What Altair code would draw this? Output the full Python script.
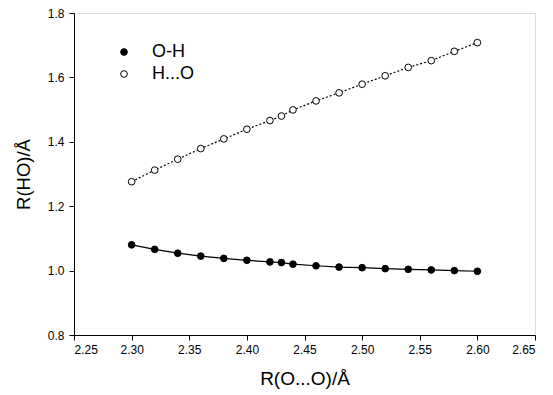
import altair as alt
import pandas as pd

x_vals = [2.30, 2.32, 2.34, 2.36, 2.38, 2.40, 2.42, 2.43, 2.44, 2.46, 2.48, 2.50, 2.52, 2.54, 2.56, 2.58, 2.60]
oh_vals = [1.080, 1.066, 1.054, 1.045, 1.038, 1.032, 1.027, 1.025, 1.020, 1.015, 1.011, 1.009, 1.006, 1.004, 1.002, 1.000, 0.998]
ho_vals = [1.276, 1.312, 1.346, 1.379, 1.409, 1.439, 1.466, 1.480, 1.499, 1.527, 1.552, 1.579, 1.605, 1.631, 1.652, 1.681, 1.708]
series_names = ["O-H", "H...O"]
x_ticks = [2.25, 2.30, 2.35, 2.40, 2.45, 2.50, 2.55, 2.60, 2.65]
y_ticks = [0.8, 1.0, 1.2, 1.4, 1.6, 1.8]

rows = []
for xv, a, b in zip(x_vals, oh_vals, ho_vals):
    rows.append({"x": xv, "y": a, "series": series_names[0]})
    rows.append({"x": xv, "y": b, "series": series_names[1]})
df = pd.DataFrame(rows)

FONT = "Liberation Sans"

xenc = alt.X("x:Q", scale=alt.Scale(domain=[2.25, 2.65], nice=False, zero=False),
             axis=alt.Axis(title="R(O...O)/Å", values=x_ticks, format=".2f", grid=False,
                           tickSize=5, domainColor="black", tickColor="black",
                           labelFontSize=12, titleFontSize=19, titleFontWeight="normal",
                           labelPadding=4, titlePadding=14, labelColor="black", titleColor="black"))
yenc = alt.Y("y:Q", scale=alt.Scale(domain=[0.8, 1.8], nice=False, zero=False),
             axis=alt.Axis(title="R(HO)/Å", values=y_ticks, format=".1f", grid=False,
                           tickSize=5, domainColor="black", tickColor="black",
                           labelFontSize=12, titleFontSize=18.5, titleFontWeight="normal",
                           labelPadding=5, titlePadding=14, labelColor="black", titleColor="black"))

base = alt.Chart(df)

line_oh = base.transform_filter(alt.datum.series == series_names[0]).mark_line(
    color="black", strokeWidth=1.2).encode(x=xenc, y=yenc)
line_ho = base.transform_filter(alt.datum.series == series_names[1]).mark_line(
    color="black", strokeWidth=1.2, strokeDash=[2, 2]).encode(x=xenc, y=yenc)

points = base.mark_point(filled=True, stroke="black", strokeWidth=1, size=45, shape="circle", opacity=1).encode(
    x=xenc, y=yenc,
    fill=alt.Fill("series:N", scale=alt.Scale(domain=series_names, range=["black", "white"]),
                  legend=alt.Legend(title=None, orient="none", legendX=41, legendY=30,
                                    labelFontSize=18, labelFont=FONT, labelColor="black",
                                    symbolSize=45, symbolStrokeColor="black", symbolStrokeWidth=1,
                                    symbolType="circle", labelOffset=19, rowPadding=4, padding=0)),
)

chart = alt.layer(line_oh, line_ho, points).properties(
    width=461, height=322,
    autosize=alt.AutoSizeParams(type="none"),
    padding={"left": 66, "top": 5, "right": 10, "bottom": 60},
).configure_view(stroke="black", strokeWidth=1).configure(font=FONT)

chart.save("out.html", embed_options={"renderer": "svg", "actions": False})
